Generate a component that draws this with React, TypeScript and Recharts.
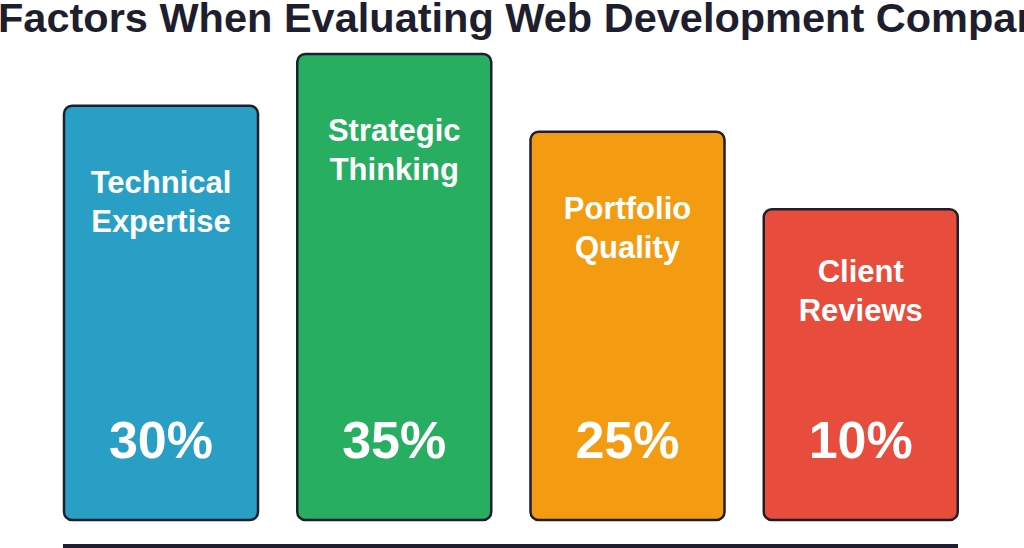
import { BarChart, Bar, XAxis, YAxis, Cell, LabelList } from 'recharts';

// Chart title (runs past the right edge in the source image)
const chartTitle = 'Factors When Evaluating Web Development Companies';

// Category names, split over two lines as drawn inside each bar
const factorNames = ['Technical Expertise', 'Strategic Thinking', 'Portfolio Quality', 'Client Reviews'];

// Share shown in each bar
const factorShares = [30, 35, 25, 10];

// Visual bar heights (arbitrary units)
const barHeights = [80, 90, 75, 60];

const barColors = ['#2a9fc6', '#27ae60', '#f39c12', '#e74c3c'];

const chartData = factorNames.map((name, i) => ({
  name,
  share: factorShares[i],
  height: barHeights[i],
}));

const FONT = '"Liberation Sans", Arial, Helvetica, sans-serif';
const INK = '#1e1e2e';

const BarText = (props: any) => {
  const { x, y, width, height, index } = props;
  const cx = x + width / 2;
  const [first, second] = factorNames[index].split(' ');
  const lineTop = y + Math.min(87, height * 0.2 + 11);
  const bottom = y + height;
  return (
    <g fontFamily={FONT} fontWeight="bold" fill="#ffffff" textAnchor="middle">
      <text x={cx} y={lineTop} fontSize={31}>{first}</text>
      <text x={cx} y={lineTop + 39} fontSize={31}>{second}</text>
      <text x={cx} y={bottom - 62} fontSize={52}>{`${factorShares[index]}%`}</text>
    </g>
  );
};

export default function App() {
  return (
    <div
      style={{
        position: 'fixed',
        top: 0,
        left: 0,
        width: 1024,
        height: 548,
        overflow: 'hidden',
        background: '#ffffff',
      }}
    >
      <div
        style={{
          position: 'absolute',
          left: -2,
          top: -7,
          whiteSpace: 'nowrap',
          fontFamily: FONT,
          fontWeight: 'bold',
          fontSize: 41.5,
          lineHeight: '50px',
          color: INK,
        }}
      >
        {chartTitle}
      </div>

      <BarChart
        width={1024}
        height={548}
        data={chartData}
        margin={{ top: 54, right: 47, bottom: 28, left: 44 }}
      >
        <XAxis dataKey="name" hide />
        <YAxis hide domain={[0, 90]} />
        <Bar
          dataKey="height"
          barSize={194}
          radius={8}
          stroke={INK}
          strokeWidth={2.5}
          isAnimationActive={false}
        >
          {chartData.map((d, i) => (
            <Cell key={d.name} fill={barColors[i]} />
          ))}
          <LabelList dataKey="share" content={BarText} />
        </Bar>
      </BarChart>

      <div
        style={{
          position: 'absolute',
          left: 63,
          top: 544,
          width: 895,
          height: 6,
          background: INK,
        }}
      />
    </div>
  );
}
